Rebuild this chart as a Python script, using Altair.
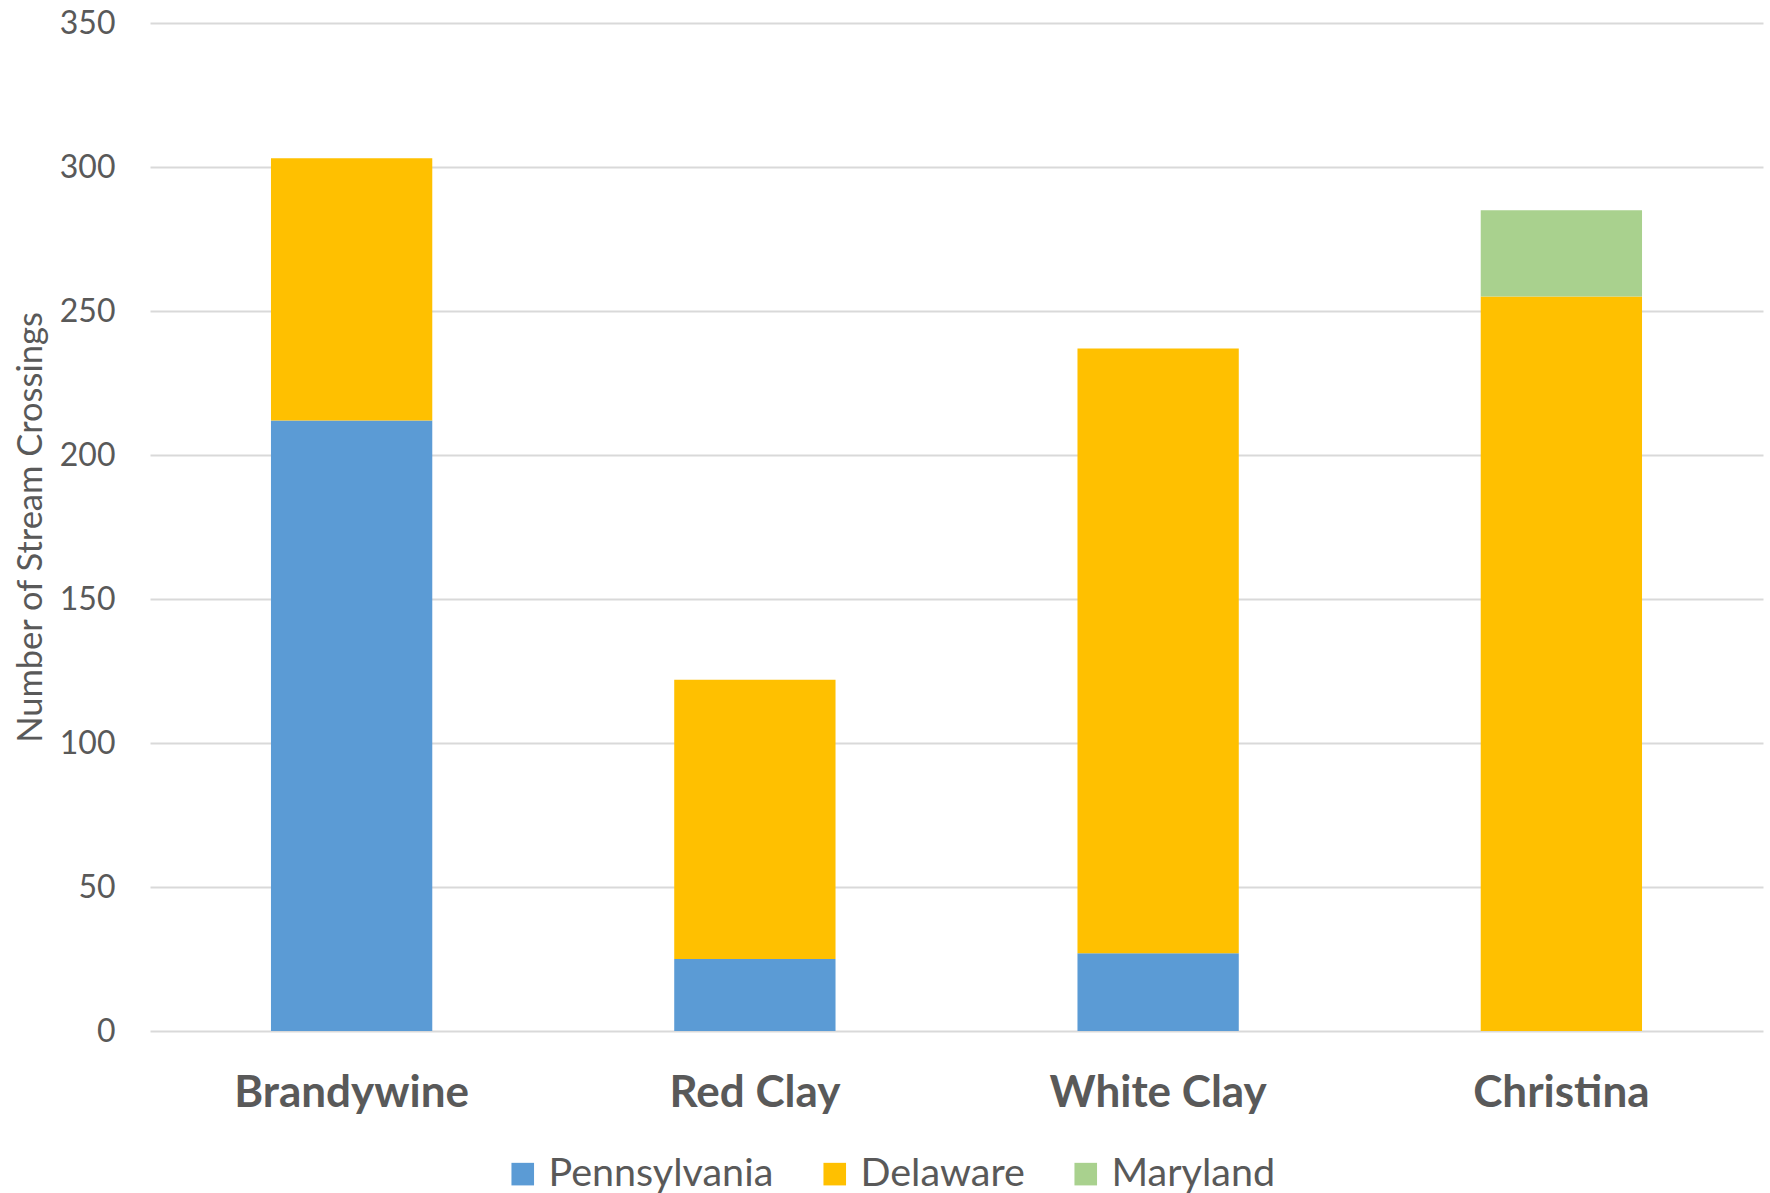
import altair as alt
import pandas as pd

watersheds = ["Brandywine", "Red Clay", "White Clay", "Christina"]
states = ["Pennsylvania", "Delaware", "Maryland"]
pennsylvania = [212, 25, 27, 0]
delaware = [91, 97, 210, 255]
maryland = [0, 0, 0, 30]
colors = ["#5B9BD5", "#FFC000", "#A9D18E"]
y_ticks = [0, 50, 100, 150, 200, 250, 300, 350]

rows = []
for i, w in enumerate(watersheds):
    for j, (s, vals) in enumerate(zip(states, [pennsylvania, delaware, maryland])):
        rows.append({"Watershed": w, "State": s, "Count": vals[i], "order": j})
df = pd.DataFrame(rows)

FONT = "Lato"
GREY = "#595959"

chart = alt.Chart(df).mark_bar().encode(
    x=alt.X("Watershed:N", sort=watersheds,
            scale=alt.Scale(paddingInner=0.6, paddingOuter=0.3),
            axis=alt.Axis(title=None, labelAngle=0, labelFont=FONT, labelFontWeight="bold",
                          labelFontSize=44, labelColor=GREY, ticks=False, domain=False,
                          labelPadding=62, labelBaseline="middle", labelLimit=0)),
    y=alt.Y("Count:Q", stack="zero",
            scale=alt.Scale(domain=[0, 350], nice=False),
            axis=alt.Axis(title="Number of Stream Crossings", values=y_ticks,
                          labelFont=FONT, labelFontSize=32, labelColor=GREY,
                          labelPadding=35, ticks=False, domain=False, labelLimit=0,
                          titleFont=FONT, titleFontSize=34.5, titleFontWeight="normal",
                          titleColor=GREY, titlePadding=11,
                          gridColor="#D9D9D9", gridWidth=2)),
    color=alt.Color("State:N", sort=states,
                    scale=alt.Scale(domain=states, range=colors),
                    legend=alt.Legend(title=None, orient="none", direction="horizontal",
                                      legendX=353, legendY=1131, symbolType="square",
                                      symbolSize=510, symbolStrokeWidth=0,
                                      labelFont=FONT, labelFontSize=39.5, labelColor=GREY,
                                      labelOffset=6, columnPadding=41, padding=0,
                                      labelLimit=0)),
    order=alt.Order("order:Q"),
).properties(
    width=1613, height=1008,
    background="white",
    autosize=alt.AutoSizeParams(type="none"),
    padding={"left": 150, "top": 23, "right": 7, "bottom": 162},
).configure_view(stroke=None)

chart.save("out.html", embed_options={"renderer": "svg", "actions": False})
